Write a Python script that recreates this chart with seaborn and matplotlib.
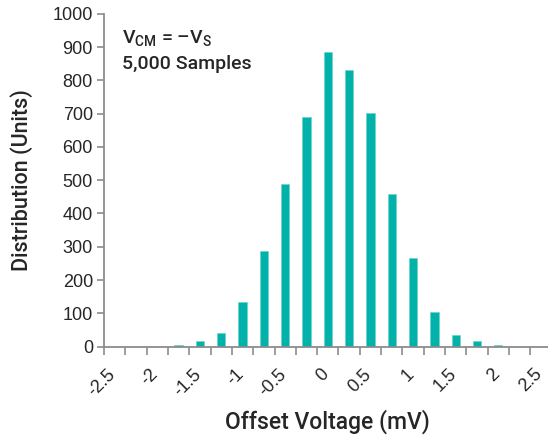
import numpy as np
import pandas as pd
import matplotlib
matplotlib.use("Agg")
import matplotlib.pyplot as plt
import matplotlib.transforms as mtransforms
import seaborn as sns

# offset voltage bins (mV) and the count of units in each bin
offset_bins = ["-2.5", "-2.25", "-2", "-1.75", "-1.5", "-1.25", "-1", "-0.75",
               "-0.5", "-0.25", "0", "0.25", "0.5", "0.75", "1", "1.25",
               "1.5", "1.75", "2", "2.25", "2.5"]
unit_counts = [0, 0, 0, 5, 16, 42, 134, 287, 490, 690, 885, 832, 702, 459,
               265, 104, 35, 17, 6, 0, 0]
y_ticks = [0, 100, 200, 300, 400, 500, 600, 700, 800, 900, 1000]

df = pd.DataFrame({"bin": offset_bins, "count": unit_counts})

sns.set_style("white")
plt.rcParams["font.family"] = ["Roboto", "DejaVu Sans"]
plt.rcParams["mathtext.fontset"] = "custom"
plt.rcParams["mathtext.rm"] = "Roboto:medium"

fig = plt.figure(figsize=(5.48, 4.37), dpi=100)
# axes runs a little past the right edge, like the cropped original
ax = fig.add_axes([104 / 548, 1 - 346.7 / 437, 447.6 / 548, 333 / 437])

sns.barplot(data=df, x="bin", y="count", order=offset_bins, color="#00B2A9",
            saturation=1, width=0.39, edgecolor="#6fd3cc", linewidth=0.5, ax=ax)

ax.set_xlim(-0.5, len(offset_bins) - 0.5)
ax.set_ylim(0, 1000)

for side in ["top", "right"]:
    ax.spines[side].set_visible(False)
for side in ["left", "bottom"]:
    ax.spines[side].set_color("#8c8c8c")
    ax.spines[side].set_linewidth(1.3)

# y axis
ax.set_yticks(y_ticks)
ax.set_yticklabels([str(v) for v in y_ticks], fontsize=13, family="Liberation Sans")
ax.tick_params(axis="y", direction="out", length=5, width=1.2, color="#8c8c8c", pad=3, left=True)

# x axis: labels every other bin, tick marks at bin edges
major = np.arange(0, len(offset_bins), 2)
ax.set_xticks(major)
ax.set_xticklabels([offset_bins[i] for i in major], rotation=45, ha="right", va="center",
                   rotation_mode="anchor", fontsize=13, family="Liberation Sans")
ax.tick_params(axis="x", which="major", length=0, pad=18)
shift = mtransforms.ScaledTranslation(-1.5 / 100, 0, fig.dpi_scale_trans)
for lbl in ax.get_xticklabels():
    lbl.set_transform(lbl.get_transform() + shift)
ax.set_xticks(np.arange(-0.5, len(offset_bins), 1), minor=True)
ax.tick_params(axis="x", which="minor", direction="out", length=6, width=1.2,
               color="#8c8c8c", bottom=True)

ax.set_xlabel("Offset Voltage (mV)", fontsize=16.5, labelpad=7, fontweight="medium")
ax.set_ylabel("Distribution (Units)", fontsize=15.5, labelpad=14, fontweight="medium")

ax.text(0.04, 0.955, r"V$_{\mathrm{CM}}$ = –V$_{\mathrm{S}}$", transform=ax.transAxes,
        fontsize=14, va="top", ha="left", fontweight="medium")
ax.text(0.04, 0.875, "5,000 Samples", transform=ax.transAxes,
        fontsize=14, va="top", ha="left", fontweight="medium")

fig.savefig("out.png", dpi=100)
